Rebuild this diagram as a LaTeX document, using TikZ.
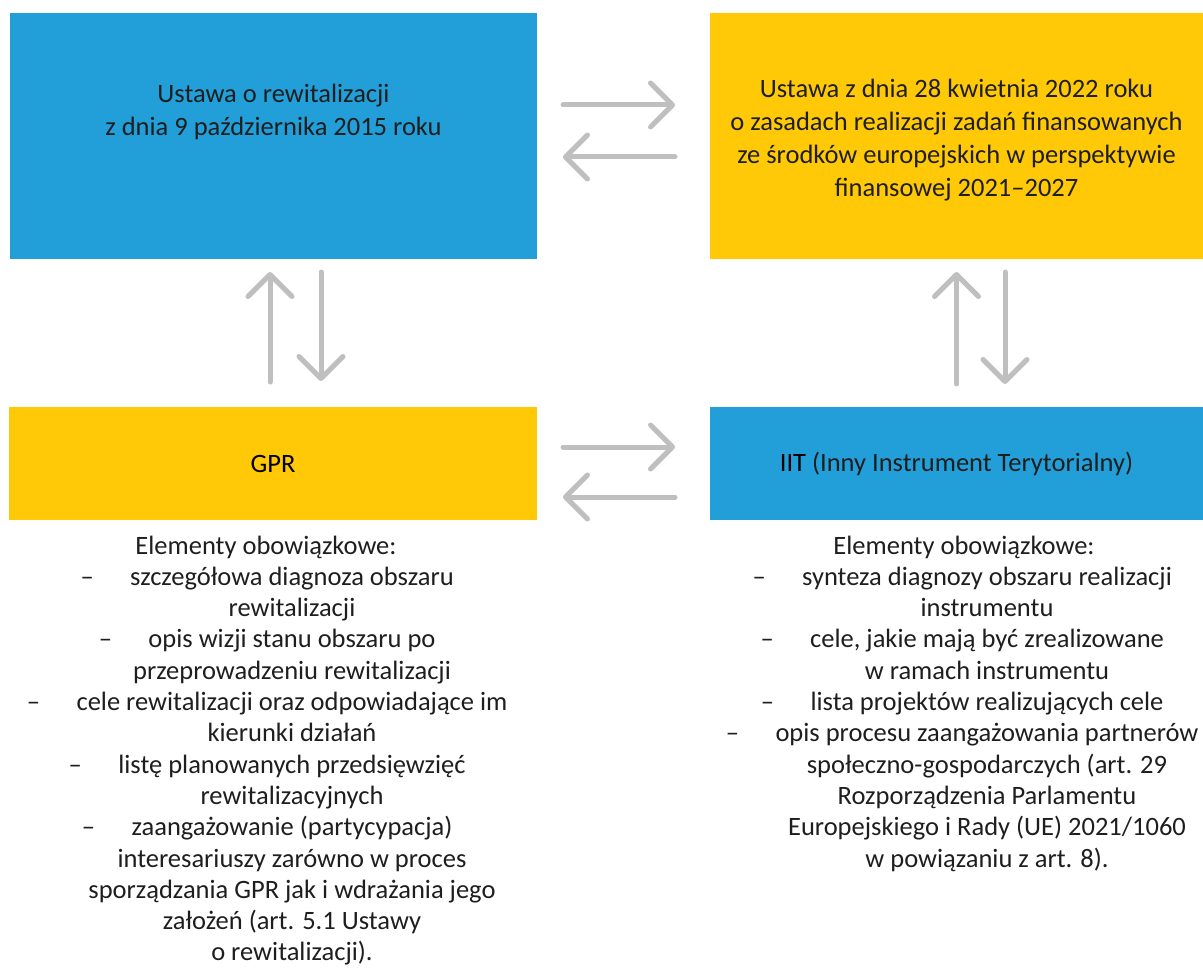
\documentclass[tikz,border=0pt]{standalone}
\usepackage{fontspec}
\setmainfont{Carlito}
\usetikzlibrary{positioning,arrows.meta}
\definecolor{boxblue}{RGB}{34,159,217}
\definecolor{boxyellow}{RGB}{255,201,8}
\definecolor{arrowgray}{RGB}{191,191,191}
\definecolor{txtgray}{RGB}{30,30,30}
\begin{document}
\begin{tikzpicture}[x=1pt, y=-1pt, line join=round, line cap=round,
	box/.style={anchor=north west, inner sep=0pt, outer sep=0pt, align=center, text=txtgray, font=\fontsize{26.5}{33}\selectfont},
	boxtext/.style={align=center, inner sep=0pt, text=txtgray, font=\fontsize{26.5}{33}\selectfont},
	item/.style={anchor=base, inner sep=0pt, text=txtgray, font=\fontsize{26.5}{32}\selectfont},
	itemdash/.style={anchor=base east, inner sep=0pt, text=txtgray, font=\fontsize{26.5}{32}\selectfont},
	twoway/.style={draw=arrowgray, line width=5pt, -{Straight Barb[length=22pt, width=44pt, round]}}]
				\useasboundingbox (0,0) rectangle (1203,971);
				\node[box, fill=boxblue, minimum width=527pt, minimum height=246pt] (ustawa) at (10,13) {};
				\node[box, fill=boxyellow, minimum width=493pt, minimum height=246pt] (ustawa22) at (710,13) {};
				\node[box, fill=boxyellow, minimum width=528pt, minimum height=113pt] (gpr) at (9,407) {\textcolor{black}{GPR}};
				\node[box, fill=boxblue, minimum width=493pt, minimum height=113pt] (iit) at (710,407) {\textcolor{black}{IIT} (Inny Instrument Terytorialny)};
				\node[boxtext] (ustawaTxt) at ([yshift=24pt]ustawa.center) {Ustawa o rewitalizacji\\z dnia 9 października 2015 roku};
				\node[boxtext] (ustawa22Txt) at ([yshift=-4pt]ustawa22.center) {Ustawa z dnia 28 kwietnia 2022 roku\\o zasadach realizacji zadań finansowanych\\ze środków europejskich w perspektywie\\finansowej 2021--2027};
				\draw[twoway, shorten <=26pt, shorten >=35pt] ([yshift=31pt]ustawa.east) -- ([yshift=31pt]ustawa22.west);
				\draw[twoway, shorten <=35pt, shorten >=26pt] ([yshift=-21pt]ustawa22.west) -- ([yshift=-21pt]ustawa.east);
				\draw[twoway, shorten <=26pt, shorten >=35pt] ([yshift=16.5pt]gpr.east) -- ([yshift=16.5pt]iit.west);
				\draw[twoway, shorten <=35pt, shorten >=26pt] ([yshift=-33.5pt]iit.west) -- ([yshift=-33.5pt]gpr.east);
				\draw[twoway, shorten <=25pt, shorten >=13pt] ([xshift=-3pt]gpr.north) -- ([xshift=-3pt]gpr.north |- ustawa.south);
				\draw[twoway, shorten <=13pt, shorten >=26pt] ([xshift=48pt]gpr.north |- ustawa.south) -- ([xshift=48pt]gpr.north);
				\draw[twoway, shorten <=23pt, shorten >=13pt] (iit.north) -- (ustawa22.south);
				\draw[twoway, shorten <=13pt, shorten >=23pt] ([xshift=48.5pt]ustawa22.south) -- ([xshift=48.5pt]iit.north);
				\node[item] (gprHead) at (266,554) {Elementy obowiązkowe:};
				\foreach \ltext/\hasdash [count=\i] in {{szczegółowa diagnoza obszaru}/1, {rewitalizacji}/0,
					{opis wizji stanu obszaru po}/1, {przeprowadzeniu rewitalizacji}/0,
					{cele rewitalizacji oraz odpowiadające im}/1, {kierunki działań}/0,
					{listę planowanych przedsięwzięć}/1, {rewitalizacyjnych}/0,
					{zaangażowanie (partycypacja)}/1, {interesariuszy zarówno w proces}/0,
					{sporządzania GPR jak i wdrażania jego}/0, {założeń (art. 5.1 Ustawy}/0,
					{o rewitalizacji).}/0}{
					\node[item] (gprL\i) at (292,{554+31.3*\i}) {\ltext};
					\ifnum\hasdash=1 \node[itemdash] (gprD\i) at ([xshift=-36pt]gprL\i.base west) {--};\fi
				}
				\node[item] (iitHead) at (964,554) {Elementy obowiązkowe:};
				\foreach \ltext/\hasdash [count=\i] in {{synteza diagnozy obszaru realizacji}/1, {instrumentu}/0,
					{cele, jakie mają być zrealizowane}/1, {w ramach instrumentu}/0,
					{lista projektów realizujących cele}/1,
					{opis procesu zaangażowania partnerów}/1, {społeczno-gospodarczych (art. 29}/0,
					{Rozporządzenia Parlamentu}/0, {Europejskiego i Rady (UE) 2021/1060}/0,
					{w powiązaniu z art. 8).}/0}{
					\node[item] (iitL\i) at (987,{554+31.3*\i}) {\ltext};
					\ifnum\hasdash=1 \node[itemdash] (iitD\i) at ([xshift=-36pt]iitL\i.base west) {--};\fi
				}
\end{tikzpicture}
\end{document}
